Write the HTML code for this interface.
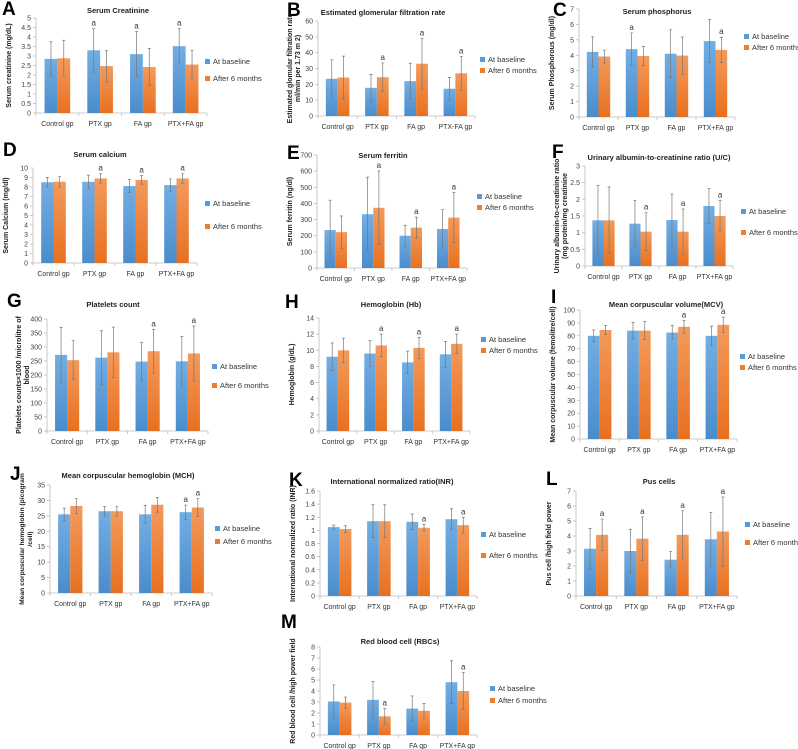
<!DOCTYPE html>
<html><head><meta charset="utf-8"><style>
html,body{margin:0;padding:0;background:#fff;}
svg{display:block;font-family:"Liberation Sans",sans-serif;}
</style></head><body>
<svg id="fig" width="798" height="749" viewBox="0 0 798 749">
<defs>
<linearGradient id="gb" x1="0" y1="0" x2="0" y2="1"><stop offset="0" stop-color="#73aee3"/><stop offset="1" stop-color="#4a8ccc"/></linearGradient>
<linearGradient id="go" x1="0" y1="0" x2="0" y2="1"><stop offset="0" stop-color="#f39a5c"/><stop offset="1" stop-color="#e8701f"/></linearGradient>
</defs>
</svg>
<script>
const categories=["Control gp","PTX gp","FA gp","PTX+FA gp"];
const categoriesB=["Control gp","PTX gp","FA gp","PTX-FA gp"];
const legendLabels=["At baseline","After 6 months"];
// A Serum creatinine
const A_base=[2.85,3.3,3.1,3.52], A_after=[2.88,2.47,2.42,2.55];
const A_sdBase=[0.9,1.15,1.2,0.93], A_sdAfter=[0.95,0.83,0.98,0.75];
const A_aBase=[0,1,1,1], A_aAfter=[0,0,0,0];
const A_ticks=[0,0.5,1,1.5,2,2.5,3,3.5,4,4.5,5];
// B eGFR
const B_base=[23.5,17.8,22,17.2], B_after=[24.3,24.5,33,27];
const B_sdBase=[12,8.5,11.3,7.2], B_sdAfter=[13.5,9,16,10.7];
const B_aBase=[0,0,0,0], B_aAfter=[0,1,1,1];
const B_ticks=[0,10,20,30,40,50,60];
// C phosphorus
const C_base=[4.22,4.4,4.1,4.92], C_after=[3.92,3.95,3.98,4.35];
const C_sdBase=[0.98,1.05,1.55,1.4], C_sdAfter=[0.42,0.62,1.2,0.82];
const C_aBase=[0,1,0,0], C_aAfter=[0,0,0,1];
const C_ticks=[0,1,2,3,4,5,6,7];
// D calcium
const D_base=[8.5,8.55,8.1,8.2], D_after=[8.55,8.9,8.75,8.9];
const D_sdBase=[0.5,0.7,0.7,0.65], D_sdAfter=[0.55,0.5,0.45,0.5];
const D_aBase=[0,0,0,0], D_aAfter=[0,1,1,1];
const D_ticks=[0,1,2,3,4,5,6,7,8,9,10];
// E ferritin
const E_base=[235,333,200,242], E_after=[222,373,250,312];
const E_sdBase=[185,230,65,120], E_sdAfter=[100,228,65,155];
const E_aBase=[0,0,0,0], E_aAfter=[0,1,1,1];
const E_ticks=[0,100,200,300,400,500,600,700];
// F U/C
const F_base=[1.37,1.27,1.38,1.8], F_after=[1.37,1.03,1.03,1.5];
const F_sdBase=[1.05,0.7,0.78,0.53], F_sdAfter=[1.0,0.57,0.68,0.47];
const F_aBase=[0,0,0,0], F_aAfter=[0,1,1,1];
const F_ticks=[0,0.5,1,1.5,2,2.5,3];
// G platelets
const G_base=[272,262,248,249], G_after=[253,281,285,277];
const G_sdBase=[98,96,69,88], G_sdAfter=[70,90,78,98];
const G_aBase=[0,0,0,0], G_aAfter=[0,0,1,1];
const G_ticks=[0,50,100,150,200,250,300,350,400];
// H hemoglobin
const H_base=[9.2,9.6,8.5,9.5], H_after=[10,10.6,10.3,10.8];
const H_sdBase=[1.7,1.6,1.4,1.6], H_sdAfter=[1.5,1.4,1.3,1.2];
const H_aBase=[0,0,0,0], H_aAfter=[0,1,1,1];
const H_ticks=[0,2,4,6,8,10,12,14];
// I MCV
const I_base=[80,84,82.5,80], I_after=[84.5,84,87,88.5];
const I_sdBase=[4.5,6.5,5.5,7.5], I_sdAfter=[3.5,7,5,6];
const I_aBase=[0,0,0,0], I_aAfter=[0,0,1,1];
const I_ticks=[0,10,20,30,40,50,60,70,80,90,100];
// J MCH
const J_base=[25.5,26.5,25.5,26.2], J_after=[28.2,26.5,28.6,27.7];
const J_sdBase=[2,1.5,2.9,2.3], J_sdAfter=[2.4,1.6,2.4,2.9];
const J_aBase=[0,0,0,1], J_aAfter=[0,0,0,1];
const J_ticks=[0,5,10,15,20,25,30,35];
// K INR
const K_base=[1.05,1.14,1.13,1.17], K_after=[1.02,1.14,1.04,1.08];
const K_sdBase=[0.03,0.25,0.12,0.16], K_sdAfter=[0.05,0.25,0.05,0.12];
const K_aBase=[0,0,0,0], K_aAfter=[0,0,1,1];
const K_ticks=[0,0.2,0.4,0.6,0.8,1,1.2,1.4,1.6];
// L pus cells
const L_base=[3.15,3.0,2.42,3.78], L_after=[4.08,3.82,4.08,4.3];
const L_sdBase=[1.35,1.45,0.55,1.8], L_sdAfter=[1.05,1.45,1.6,2.3];
const L_aBase=[0,0,0,0], L_aAfter=[1,1,1,1];
const L_ticks=[0,1,2,3,4,5,6,7];
// M RBCs
const M_base=[3.05,3.2,2.4,4.8], M_after=[2.95,1.7,2.2,4.0];
const M_sdBase=[1.5,1.65,1.15,1.95], M_sdAfter=[0.5,0.7,0.65,1.7];
const M_aBase=[0,0,0,0], M_aAfter=[0,1,0,1];
const M_ticks=[0,1,2,3,4,5,6,7,8];

const NS="http://www.w3.org/2000/svg";
const svg=document.getElementById('fig');
function el(tag,attrs,parent,text){const e=document.createElementNS(NS,tag);for(const k in attrs)e.setAttribute(k,attrs[k]);if(text!==undefined)e.textContent=text;(parent||svg).appendChild(e);return e;}

const panels=[
 {id:'A',title:'Serum Creatinine',ylab:['Serum creatinine (mg/dL)'],base:A_base,after:A_after,sb:A_sdBase,sa:A_sdAfter,ab:A_aBase,aa:A_aAfter,ticks:A_ticks,cats:categories,
  xl:36,xr:207,yt:18,y0:113,lx:205,ly:[64,81],tx:118,ty:13,L:[2,15]},
 {id:'B',title:'Estimated glomerular filtration rate',ylab:['Estimated glomular filtration rate','ml/min per 1.73  m 2)'],base:B_base,after:B_after,sb:B_sdBase,sa:B_sdAfter,ab:B_aBase,aa:B_aAfter,ticks:B_ticks,cats:categoriesB,
  xl:318,xr:475,yt:21,y0:116,lx:480,ly:[62,73],tx:383,ty:15,L:[287,16]},
 {id:'C',title:'Serum phosphorus',ylab:['Serum Phosphorous (mg/dl)'],base:C_base,after:C_after,sb:C_sdBase,sa:C_sdAfter,ab:C_aBase,aa:C_aAfter,ticks:C_ticks,cats:categories,
  xl:579,xr:735,yt:9,y0:117,lx:744,ly:[39,50],tx:657,ty:14,L:[553,16]},
 {id:'D',title:'Serum calcium',ylab:['Serum Calcium (mg/dl)'],base:D_base,after:D_after,sb:D_sdBase,sa:D_sdAfter,ab:D_aBase,aa:D_aAfter,ticks:D_ticks,cats:categories,
  xl:33,xr:197,yt:168,y0:263,lx:205,ly:[206,229],tx:100,ty:157,L:[3,156]},
 {id:'E',title:'Serum ferritin',ylab:['Serum ferritin (ng/dl)'],base:E_base,after:E_after,sb:E_sdBase,sa:E_sdAfter,ab:E_aBase,aa:E_aAfter,ticks:E_ticks,cats:categories,
  xl:317,xr:467,yt:155,y0:268,lx:477,ly:[199,210],tx:383,ty:158,L:[287,159]},
 {id:'F',title:'Urinary albumin-to-creatinine ratio (U/C)',ylab:['Urinary albumin-to-creatinine ratio','(mg protein/mg creatinine'],base:F_base,after:F_after,sb:F_sdBase,sa:F_sdAfter,ab:F_aBase,aa:F_aAfter,ticks:F_ticks,cats:categories,
  xl:585,xr:733,yt:166,y0:266,lx:741,ly:[214,235],tx:659,ty:160,L:[552,158]},
 {id:'G',title:'Platelets count',ylab:['Platelets counts×1000 /microlitre of','blood'],base:G_base,after:G_after,sb:G_sdBase,sa:G_sdAfter,ab:G_aBase,aa:G_aAfter,ticks:G_ticks,cats:categories,
  xl:47,xr:208,yt:319,y0:431,lx:212,ly:[369,388],tx:113,ty:307,L:[7,307]},
 {id:'H',title:'Hemoglobin (Hb)',ylab:['Hemoglobin (g/dL)'],base:H_base,after:H_after,sb:H_sdBase,sa:H_sdAfter,ab:H_aBase,aa:H_aAfter,ticks:H_ticks,cats:categories,
  xl:319,xr:470,yt:318,y0:431,lx:481,ly:[342,353],tx:391,ty:307,L:[285,308]},
 {id:'I',title:'Mean corpuscular volume(MCV)',ylab:['Mean corpuscular volume (femolitre/cell)'],base:I_base,after:I_after,sb:I_sdBase,sa:I_sdAfter,ab:I_aBase,aa:I_aAfter,ticks:I_ticks,cats:categories,
  xl:580,xr:737,yt:310,y0:439,lx:740,ly:[359,370],tx:666,ty:307,L:[551,303]},
 {id:'J',title:'Mean corpuscular hemoglobin (MCH)',ylab:['Mean corpuscular hemoglobin (picogram','/cell)'],base:J_base,after:J_after,sb:J_sdBase,sa:J_sdAfter,ab:J_aBase,aa:J_aAfter,ticks:J_ticks,cats:categories,
  xl:50,xr:212,yt:485,y0:593,lx:215,ly:[531,544],tx:128,ty:478,L:[10,480]},
 {id:'K',title:'International normalized ratio(INR)',ylab:['International normalized ratio (INR)'],base:K_base,after:K_after,sb:K_sdBase,sa:K_sdAfter,ab:K_aBase,aa:K_aAfter,ticks:K_ticks,cats:categories,
  xl:320,xr:477,yt:491,y0:596,lx:481,ly:[537,558],tx:392,ty:484,L:[289,486]},
 {id:'L',title:'Pus cells',ylab:['Pus cell /high field power'],base:L_base,after:L_after,sb:L_sdBase,sa:L_sdAfter,ab:L_aBase,aa:L_aAfter,ticks:L_ticks,cats:categories,
  xl:576,xr:737,yt:491,y0:596,lx:745,ly:[527,545],tx:659,ty:484,L:[546,485]},
 {id:'M',title:'Red blood cell (RBCs)',ylab:['Red blood cell /high power field'],base:M_base,after:M_after,sb:M_sdBase,sa:M_sdAfter,ab:M_aBase,aa:M_aAfter,ticks:M_ticks,cats:categories,
  xl:320,xr:477,yt:647,y0:735,lx:490,ly:[691,703],tx:400,ty:644,L:[281,628]}
];

panels.forEach(p=>{
  const g=el('g',{});
  
  
  const ymax=p.ticks[p.ticks.length-1];
  const yS=v=>p.y0-(v/ymax)*(p.y0-p.yt);
  const gw=(p.xr-p.xl)/4, bw=gw*0.3;
  const xC=i=>p.xl+gw*(i+0.5);
  const lt=el('text',{x:p.L[0],y:p.L[1],'font-size':19,'font-weight':'bold',fill:'#000'},g,p.id);
  
  
  const tt=el('text',{x:p.tx,y:p.ty,'font-size':7.5,'font-weight':'bold','text-anchor':'middle',fill:'#222'},g,p.title);
  
  
  const ax=el('line',{x1:p.xl,y1:p.yt,x2:p.xl,y2:p.y0,stroke:'#bbb','stroke-width':0.8},g);
  
  
  const bx=el('line',{x1:p.xl,y1:p.y0,x2:p.xr,y2:p.y0,stroke:'#bbb','stroke-width':0.8},g);
  
  
  p.ticks.forEach(t=>{
    const y=yS(t);
    el('line',{x1:p.xl-3,y1:y,x2:p.xl,y2:y,stroke:'#bbb','stroke-width':0.8},g);
    const tl=el('text',{x:p.xl-5,y:y+2.5,'font-size':7,'text-anchor':'end',fill:'#444'},g,String(t));
    
    
  });
  for(let i=0;i<=4;i++){el('line',{x1:p.xl+gw*i,y1:p.y0,x2:p.xl+gw*i,y2:p.y0+3,stroke:'#bbb','stroke-width':0.8},g);}
  p.cats.forEach((c,i)=>{
    const cl=el('text',{x:xC(i),y:p.y0+13,'font-size':7,'text-anchor':'middle',fill:'#333'},g,c);
    
    
  });
  const two=p.ylab.length>1;
  const cx=p.xl-(two?26:25), cy=(p.yt+p.y0)/2;
  const yl=el('text',{x:0,y:0,'font-size':7,'font-weight':'bold','text-anchor':'middle',fill:'#222',transform:`translate(${cx},${cy}) rotate(-90)`},g);
  
  
  p.ylab.forEach((s,k)=>{el('tspan',{x:0,dy:k?8:0},yl,s);});
  try{
    const len=yl.getBBox().width;
    const avail=(p.y0-p.yt)+24;
    if(len>avail) yl.setAttribute('font-size',(7*avail/len).toFixed(2));
  }catch(e){}
  [[p.base,p.sb,p.ab,'url(#gb)',-1,'bar-baseline'],[p.after,p.sa,p.aa,'url(#go)',0,'bar-after']].forEach(([vals,sds,as,fill,off,nm])=>{
    vals.forEach((v,i)=>{
      const x=xC(i)+off*bw;
      const r=el('rect',{x:x,y:yS(v),width:bw,height:p.y0-yS(v),fill:fill},g);
      
      
      const ex=x+bw/2, top=yS(v+sds[i]), bot=yS(Math.max(0,v-sds[i]));
      const e=el('path',{d:`M${ex},${top}V${bot}M${ex-1.5},${top}H${ex+1.5}M${ex-1.5},${bot}H${ex+1.5}`,stroke:'#777','stroke-width':0.7,fill:'none'},g);
      
      
      if(as[i]){
        const a=el('text',{x:ex,y:top-3,'font-size':8,'text-anchor':'middle',fill:'#333'},g,'a');
        
        
      }
    });
  });
  [['#5b9bd5',0],['#ed7d31',1]].forEach(([c,k])=>{
    const lg=el('g',{},g);
    
    
    el('rect',{x:p.lx,y:p.ly[k]-5,width:5,height:5,fill:c},lg);
    el('text',{x:p.lx+8,y:p.ly[k],'font-size':7.5,fill:'#333'},lg,legendLabels[k]);
  });
});
</script>
</body></html>
